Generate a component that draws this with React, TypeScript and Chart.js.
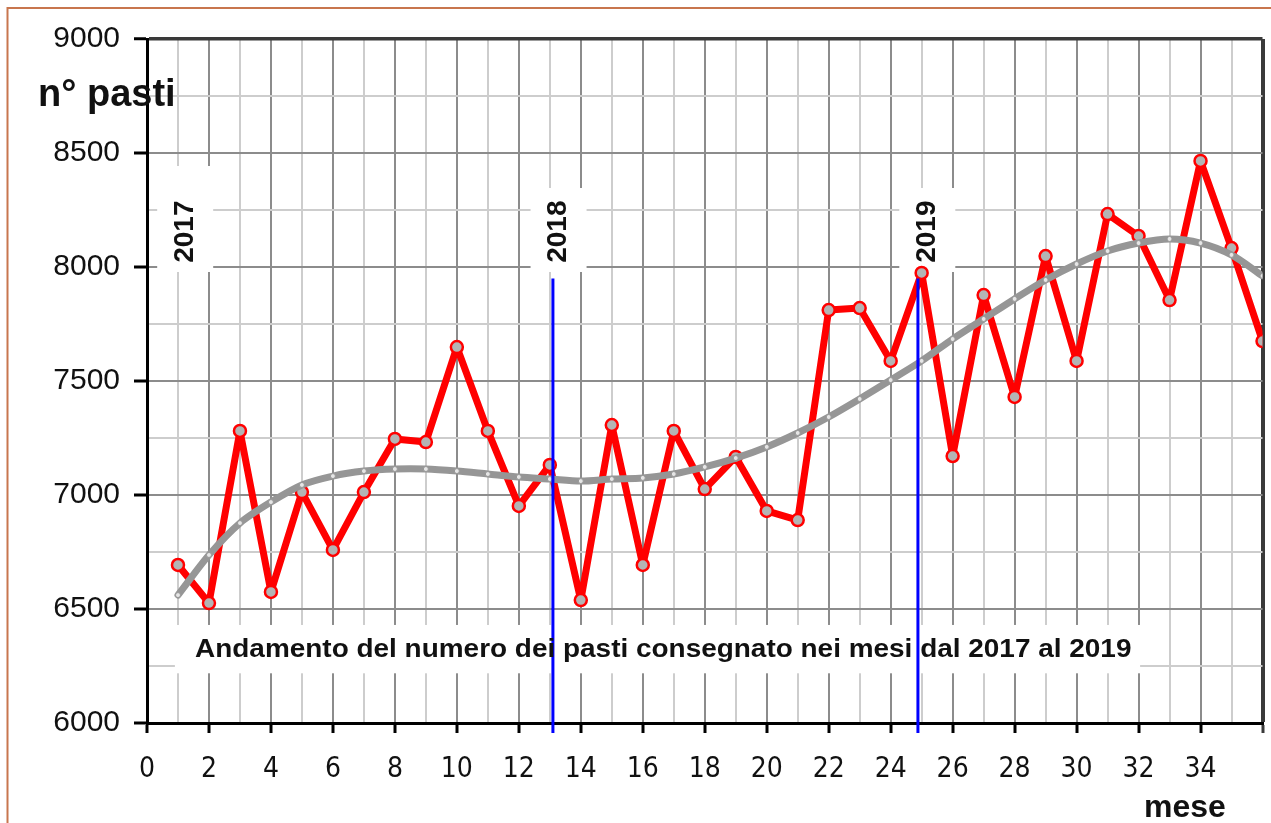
import React, { useEffect, useRef } from 'react';
import { Chart, registerables } from 'chart.js';

Chart.register(...registerables);

// ---- data ----
const months = [1, 2, 3, 4, 5, 6, 7, 8, 9, 10, 11, 12, 13, 14, 15, 16, 17, 18, 19, 20, 21, 22, 23, 24, 25, 26, 27, 28, 29, 30, 31, 32, 33, 34, 35, 36];
const pastiMensili = [6693, 6526, 7281, 6575, 7013, 6759, 7013, 7246, 7232, 7649, 7281, 6952, 7132, 6539, 7307, 6693, 7281, 7026, 7167, 6930, 6890, 7811, 7820, 7588, 7974, 7171, 7877, 7430, 8048, 7588, 8232, 8136, 7855, 8465, 8083, 7675];
const tendenza = [6561, 6737, 6877, 6969, 7044, 7083, 7105, 7114, 7114, 7105, 7092, 7079, 7070, 7061, 7070, 7075, 7092, 7123, 7162, 7211, 7272, 7342, 7421, 7504, 7588, 7684, 7772, 7860, 7943, 8013, 8070, 8105, 8123, 8105, 8053, 7961];
const xTickLabels = [0, 2, 4, 6, 8, 10, 12, 14, 16, 18, 20, 22, 24, 26, 28, 30, 32, 34];
const yTickLabels = [6000, 6500, 7000, 7500, 8000, 8500, 9000];
const yearLineX = [13.1, 24.88];
const yearLineTop = 7950;
const yearLineBottom = 5956;
const yearLabels = ['2017', '2018', '2019'];
const yearLabelX = [1.2, 13.25, 25.15];
const yearLabelY = 8155;
const TITLE = 'Andamento del numero dei pasti consegnato nei mesi dal 2017 al 2019';
const Y_TITLE = 'n° pasti';
const X_TITLE = 'mese';

const FONT = "'Liberation Sans', Arial, sans-serif";
const NARROW = "'Liberation Sans Narrow', 'DejaVu Sans Condensed', 'Liberation Sans', Arial, sans-serif";

const overlay = {
  id: 'overlay',
  beforeDatasetsDraw(chart: any) {
    const { ctx, scales } = chart;
    const x = scales.x;
    const y = scales.y;
    ctx.save();
    ctx.fillStyle = '#ffffff';
    // title box
    const tx0 = x.getPixelForValue(0.9);
    const tx1 = x.getPixelForValue(32.05);
    const ty0 = y.getPixelForValue(6430);
    const ty1 = y.getPixelForValue(6218);
    ctx.fillRect(tx0, ty0, tx1 - tx0, ty1 - ty0);
    // year label boxes
    yearLabelX.forEach((v, i) => {
      const cx = x.getPixelForValue(v);
      const top = i === 0 ? 166 : 188;
      ctx.fillRect(cx - 27, top, 56, 272 - top);
    });
    ctx.restore();
  },
  afterDatasetsDraw(chart: any) {
    const { ctx, scales } = chart;
    const x = scales.x;
    const y = scales.y;
    ctx.save();
    ctx.fillStyle = '#111111';
    // title (stretched horizontally like the original)
    ctx.font = `bold 26px ${FONT}`;
    ctx.textAlign = 'left';
    ctx.textBaseline = 'alphabetic';
    const tLeft = x.getPixelForValue(1.55);
    const tRight = x.getPixelForValue(31.77);
    const w = ctx.measureText(TITLE).width;
    ctx.save();
    ctx.translate(tLeft, y.getPixelForValue(6290));
    ctx.scale((tRight - tLeft) / w, 1);
    ctx.fillText(TITLE, 0, 0);
    ctx.restore();
    // year labels (rotated)
    ctx.font = `bold 28px ${FONT}`;
    yearLabels.forEach((lab, i) => {
      const cx = x.getPixelForValue(yearLabelX[i]);
      const cy = y.getPixelForValue(yearLabelY);
      ctx.save();
      ctx.translate(cx, cy);
      ctx.rotate(-Math.PI / 2);
      ctx.textAlign = 'center';
      ctx.textBaseline = 'middle';
      ctx.fillText(lab, 0, 1);
      ctx.restore();
    });
    ctx.restore();
  },
  afterDraw(chart: any) {
    const { ctx } = chart;
    ctx.save();
    ctx.fillStyle = '#111111';
    ctx.font = `bold 38px ${FONT}`;
    ctx.textAlign = 'left';
    ctx.textBaseline = 'alphabetic';
    ctx.fillText(Y_TITLE, 38, 106);
    ctx.font = `bold 32px ${FONT}`;
    ctx.fillText(X_TITLE, 1144, 817);
    // outer frame
    ctx.strokeStyle = '#c8764e';
    ctx.lineWidth = 2;
    ctx.beginPath();
    ctx.moveTo(7.5, 823);
    ctx.lineTo(7.5, 8);
    ctx.lineTo(1271, 8);
    ctx.stroke();
    ctx.restore();
  },
};

export default function App() {
  const canvasRef = useRef<HTMLCanvasElement | null>(null);

  useEffect(() => {
    if (!canvasRef.current) return;
    const chart = new Chart(canvasRef.current, {
      type: 'line',
      data: {
        datasets: [
          {
            label: 'pasti',
            data: months.map((m, i) => ({ x: m, y: pastiMensili[i] })),
            borderColor: '#ff0000',
            borderWidth: 7,
            borderJoinStyle: 'round',
            borderCapStyle: 'round',
            pointRadius: 6,
            pointBackgroundColor: '#b4b4b4',
            pointBorderColor: '#ff0000',
            pointBorderWidth: 2.5,
            tension: 0,
            order: 3,
          },
          {
            label: 'tendenza',
            data: months.map((m, i) => ({ x: m, y: tendenza[i] })),
            borderColor: '#969696',
            borderWidth: 7,
            borderJoinStyle: 'round',
            borderCapStyle: 'round',
            pointRadius: 2.5,
            pointBackgroundColor: '#e6e6e6',
            pointBorderColor: '#969696',
            pointBorderWidth: 1,
            tension: 0.3,
            order: 2,
          },
          ...yearLineX.map((v) => ({
            label: 'anno',
            data: [
              { x: v, y: yearLineTop },
              { x: v, y: yearLineBottom },
            ],
            borderColor: '#0000ff',
            borderWidth: 3,
            pointRadius: 0,
            clip: false as any,
            order: 1,
          })),
        ],
      },
      options: {
        animation: false,
        responsive: false,
        events: [],
        layout: { padding: { top: 39, right: 8, left: 0, bottom: 0 } },
        plugins: {
          legend: { display: false },
          tooltip: { enabled: false },
          title: { display: false },
        },
        scales: {
          x: {
            type: 'linear',
            min: 0,
            max: 36,
            afterFit: (s: any) => {
              s.height = 100;
              s.paddingLeft = 0;
              s.paddingRight = 0;
            },
            ticks: {
              stepSize: 1,
              autoSkip: false,
              maxRotation: 0,
              padding: 20,
              color: '#111111',
              font: { family: NARROW, size: 28 },
              callback: (v: any) => (xTickLabels.includes(Number(v)) ? String(v) : ''),
            },
            grid: {
              tickLength: 10,
              color: (c: any) => {
                const v = c.tick ? c.tick.value : -1;
                if (v === 0) return 'rgba(0,0,0,0)';
                if (v === 36) return '#3a3a3a';
                return v % 2 === 0 ? '#8c8c8c' : '#cdcdcd';
              },
              lineWidth: (c: any) => {
                const v = c.tick ? c.tick.value : -1;
                return v === 36 ? 4 : 2;
              },
              tickColor: (c: any) => {
                const v = c.tick ? c.tick.value : -1;
                if (v === 36) return '#3a3a3a';
                return v % 2 === 0 ? '#000000' : 'rgba(0,0,0,0)';
              },
              tickWidth: 3,
            },
            border: { display: true, color: '#000000', width: 3 },
          },
          y: {
            type: 'linear',
            min: 6000,
            max: 9000,
            afterFit: (s: any) => {
              s.width = 147;
              s.paddingTop = 0;
              s.paddingBottom = 0;
            },
            ticks: {
              stepSize: 250,
              autoSkip: false,
              padding: 14,
              color: '#111111',
              font: { family: FONT, size: 30 },
              callback: (v: any) => (yTickLabels.includes(Number(v)) ? String(v) : ''),
            },
            grid: {
              tickLength: 13,
              color: (c: any) => {
                const v = c.tick ? c.tick.value : -1;
                if (v === 6000) return 'rgba(0,0,0,0)';
                if (v === 9000) return '#3a3a3a';
                return v % 500 === 0 ? '#8c8c8c' : '#cdcdcd';
              },
              lineWidth: (c: any) => {
                const v = c.tick ? c.tick.value : -1;
                return v === 9000 ? 3.5 : 2;
              },
              tickColor: (c: any) => {
                const v = c.tick ? c.tick.value : -1;
                return v % 500 === 0 ? '#000000' : 'rgba(0,0,0,0)';
              },
              tickWidth: 3,
            },
            border: { display: true, color: '#000000', width: 3 },
          },
        },
      } as any,
      plugins: [overlay],
    });
    return () => chart.destroy();
  }, []);

  return (
    <div style={{ position: 'absolute', left: 0, top: 0, width: 1271, height: 823, background: '#ffffff' }}>
      <canvas ref={canvasRef} width={1271} height={823} style={{ display: 'block', width: 1271, height: 823 }} />
    </div>
  );
}
